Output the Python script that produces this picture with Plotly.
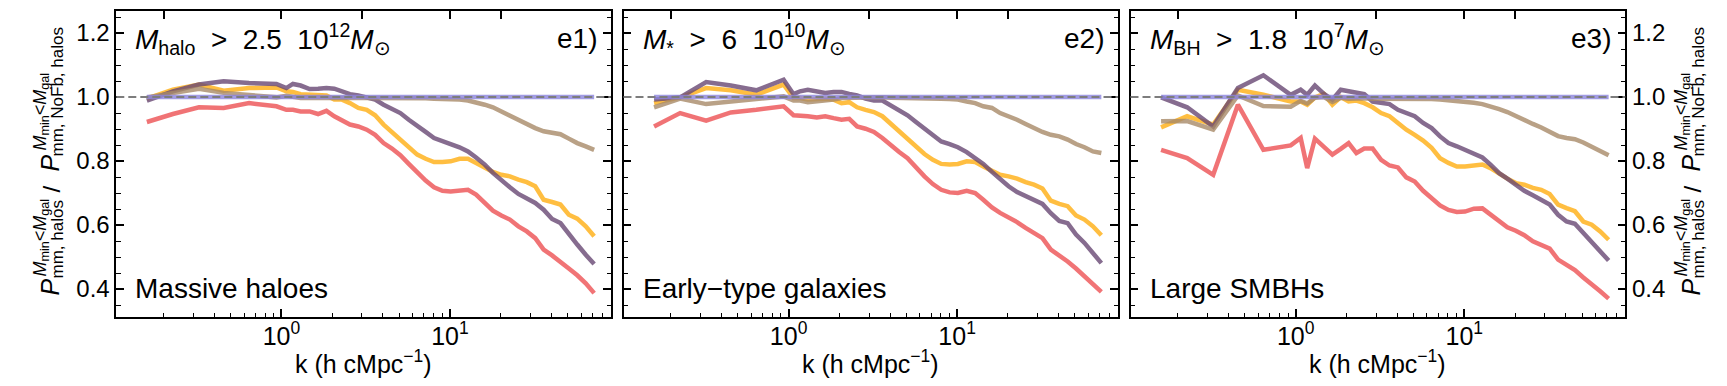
import plotly.graph_objects as go

W, H = 1727, 386

# ---------------- data ----------------
k = [0.159, 0.227, 0.324, 0.454, 0.643, 0.934, 1.07, 1.17, 1.30, 1.47, 1.65, 1.85,
     2.06, 2.29, 2.55, 2.86, 3.21, 3.60, 4.04, 4.53, 5.08, 5.70, 6.40, 7.18, 8.05,
     9.03, 10.1, 11.4, 12.8, 14.3, 16.1, 18.0, 20.2, 22.7, 25.5, 28.6, 32.1, 36.0,
     40.4, 45.3, 50.8, 57.0, 64.0, 71.8]

p1_red = [0.922, 0.947, 0.968, 0.966, 0.981, 0.971, 0.960, 0.960, 0.955, 0.955, 0.947, 0.957,
          0.940, 0.929, 0.914, 0.908, 0.898, 0.882, 0.856, 0.839, 0.818, 0.791, 0.763, 0.739,
          0.718, 0.707, 0.705, 0.707, 0.710, 0.695, 0.669, 0.645, 0.630, 0.617, 0.596, 0.580,
          0.559, 0.523, 0.505, 0.486, 0.464, 0.443, 0.418, 0.387]
p1_yellow = [0.995, 1.023, 1.039, 1.020, 1.028, 1.030, 1.018, 1.016, 1.009, 1.007, 1.007, 1.005,
             0.992, 0.992, 0.981, 0.966, 0.960, 0.943, 0.914, 0.891, 0.867, 0.841, 0.820, 0.807,
             0.797, 0.797, 0.799, 0.807, 0.807, 0.794, 0.778, 0.766, 0.757, 0.752, 0.742, 0.734,
             0.721, 0.679, 0.672, 0.664, 0.632, 0.620, 0.596, 0.565]
p1_purple = [0.989, 1.018, 1.039, 1.049, 1.044, 1.041, 1.028, 1.041, 1.036, 1.025, 1.026, 1.028,
             1.026, 1.016, 1.009, 1.005, 0.999, 0.992, 0.976, 0.964, 0.950, 0.929, 0.908, 0.891,
             0.872, 0.861, 0.853, 0.843, 0.830, 0.811, 0.789, 0.763, 0.739, 0.718, 0.697, 0.684,
             0.669, 0.648, 0.619, 0.606, 0.570, 0.539, 0.507, 0.478]
p1_tan = [0.999, 1.013, 1.026, 1.013, 1.007, 0.999, 1.004, 1.000, 0.997, 0.998, 0.998, 0.998,
          0.999, 0.999, 0.999, 0.999, 0.999, 0.999, 0.998, 0.998, 0.997, 0.997, 0.996, 0.996,
          0.995, 0.995, 0.994, 0.992, 0.989, 0.984, 0.976, 0.968, 0.955, 0.940, 0.929, 0.916,
          0.903, 0.893, 0.888, 0.884, 0.870, 0.856, 0.846, 0.835]

p2_red = [0.908, 0.950, 0.926, 0.952, 0.960, 0.971, 0.943, 0.943, 0.940, 0.936, 0.940, 0.934,
          0.929, 0.932, 0.908, 0.901, 0.891, 0.872, 0.849, 0.828, 0.809, 0.780, 0.752, 0.728,
          0.710, 0.702, 0.700, 0.707, 0.700, 0.679, 0.655, 0.638, 0.624, 0.609, 0.591, 0.575,
          0.559, 0.523, 0.505, 0.486, 0.464, 0.440, 0.419, 0.391]
p2_yellow = [0.981, 0.999, 1.028, 1.021, 1.007, 1.039, 0.997, 0.997, 0.992, 0.995, 0.995, 0.992,
             0.981, 0.984, 0.968, 0.960, 0.953, 0.940, 0.916, 0.893, 0.872, 0.849, 0.822, 0.804,
             0.791, 0.789, 0.791, 0.799, 0.797, 0.783, 0.768, 0.757, 0.752, 0.745, 0.734, 0.726,
             0.714, 0.676, 0.666, 0.659, 0.630, 0.617, 0.596, 0.568]
p2_purple = [0.992, 0.999, 1.047, 1.036, 1.021, 1.054, 1.009, 1.018, 1.023, 1.016, 1.013, 1.016,
             1.016, 1.010, 1.005, 0.995, 0.989, 0.989, 0.974, 0.957, 0.943, 0.922, 0.901, 0.880,
             0.861, 0.853, 0.843, 0.828, 0.811, 0.791, 0.766, 0.742, 0.721, 0.703, 0.690, 0.676,
             0.666, 0.637, 0.613, 0.606, 0.570, 0.544, 0.512, 0.481]
p2_tan = [0.968, 0.995, 0.978, 0.986, 0.995, 1.002, 0.989, 0.989, 0.984, 0.986, 0.989, 0.992,
          0.997, 0.998, 0.999, 0.999, 0.999, 0.999, 0.998, 0.998, 0.998, 0.997, 0.997, 0.996,
          0.995, 0.994, 0.992, 0.986, 0.981, 0.971, 0.966, 0.950, 0.940, 0.929, 0.916, 0.903,
          0.891, 0.882, 0.877, 0.867, 0.853, 0.843, 0.830, 0.825]

p3_red = [0.835, 0.809, 0.757, 0.976, 0.835, 0.849, 0.872, 0.778, 0.870, 0.843, 0.820, 0.838,
          0.856, 0.825, 0.839, 0.839, 0.804, 0.786, 0.780, 0.749, 0.736, 0.707, 0.682, 0.661,
          0.647, 0.641, 0.642, 0.651, 0.652, 0.632, 0.611, 0.593, 0.582, 0.568, 0.549, 0.536,
          0.526, 0.492, 0.476, 0.459, 0.436, 0.416, 0.393, 0.370]
p3_yellow = [0.905, 0.940, 0.914, 1.023, 1.007, 0.986, 0.986, 0.976, 0.999, 1.010, 0.976, 1.000,
             0.986, 0.989, 0.981, 0.968, 0.950, 0.940, 0.919, 0.898, 0.882, 0.864, 0.841, 0.809,
             0.794, 0.783, 0.783, 0.786, 0.789, 0.778, 0.759, 0.745, 0.731, 0.726, 0.716, 0.710,
             0.697, 0.664, 0.653, 0.643, 0.611, 0.601, 0.580, 0.554]
p3_purple = [0.999, 0.968, 0.908, 1.028, 1.068, 1.007, 1.023, 1.007, 1.036, 1.010, 0.992, 1.023,
             1.018, 1.012, 1.009, 0.986, 0.981, 0.978, 0.960, 0.950, 0.940, 0.919, 0.903, 0.877,
             0.856, 0.846, 0.835, 0.825, 0.811, 0.789, 0.762, 0.745, 0.724, 0.707, 0.693, 0.679,
             0.664, 0.632, 0.611, 0.604, 0.575, 0.549, 0.520, 0.489]
p3_tan = [0.924, 0.925, 0.898, 1.005, 0.972, 0.970, 0.988, 0.980, 0.998, 1.000, 0.985, 0.998,
          0.995, 0.997, 0.996, 0.995, 0.995, 0.994, 0.994, 0.995, 0.996, 0.996, 0.994, 0.992,
          0.990, 0.988, 0.985, 0.982, 0.978, 0.972, 0.962, 0.953, 0.940, 0.928, 0.916, 0.905,
          0.892, 0.878, 0.872, 0.868, 0.858, 0.845, 0.832, 0.818]

reference = [1.0] * len(k)

panel_titles = [
    "<i>M</i><sub>halo</sub>&nbsp; &gt; &nbsp;2.5&nbsp; 10<sup>12</sup><i>M</i><sub>⊙</sub>",
    "<i>M</i><sub>*</sub>&nbsp; &gt; &nbsp;6&nbsp; 10<sup>10</sup><i>M</i><sub>⊙</sub>",
    "<i>M</i><sub>BH</sub>&nbsp; &gt; &nbsp;1.8&nbsp; 10<sup>7</sup><i>M</i><sub>⊙</sub>",
]
panel_tags = ["e1)", "e2)", "e3)"]
panel_labels = ["Massive haloes", "Early\u2212type galaxies", "Large SMBHs"]
x_tickvals = [1, 10]
x_ticktext = ["10<sup>0</sup>", "10<sup>1</sup>"]
x_minor = [0.2, 0.3, 0.4, 0.5, 0.6, 0.7, 0.8, 0.9, 2, 3, 4, 5, 6, 7, 8, 9,
           20, 30, 40, 50, 60, 70, 80]
x_top_ticks = [0.2, 1, 3, 10, 20]
y_tickvals = [0.4, 0.6, 0.8, 1.0, 1.2]
y_ticktext = ["0.4", "0.6", "0.8", "1.0", "1.2"]

panels = [
    dict(red=p1_red, yellow=p1_yellow, purple=p1_purple, tan=p1_tan),
    dict(red=p2_red, yellow=p2_yellow, purple=p2_purple, tan=p2_tan),
    dict(red=p3_red, yellow=p3_yellow, purple=p3_purple, tan=p3_tan),
]

# ---------------- style ----------------
FONT = "Liberation Sans, Arial, Helvetica, sans-serif"
colors = dict(red="rgb(238,82,84)", yellow="rgb(255,176,20)",
              purple="rgb(104,72,116)", tan="rgb(168,138,104)")
lav = "rgb(140,132,222)"
LW = 4.5
OP = 0.8

xr = [-0.98, 1.955]
yr = [0.3125, 1.268]
xdoms = [(108.3, 602.8), (615.5, 1110.0), (1122.5, 1617.3)]
ytop, ybot = 3.3, 309.0
ydom = [(H - ybot) / H, (H - ytop) / H]


def px(x):
    return x / W


def py(y):
    return 1 - y / H


fig = go.Figure()

for i, pdat in enumerate(panels):
    xa = "x" if i == 0 else f"x{i+1}"
    ya = "y" if i == 0 else f"y{i+1}"
    for name in ["red", "yellow", "purple", "tan"]:
        fig.add_trace(go.Scatter(x=k, y=pdat[name], mode="lines", xaxis=xa, yaxis=ya,
                                 line=dict(color=colors[name], width=LW), opacity=OP,
                                 showlegend=False, hoverinfo="skip"))
    fig.add_trace(go.Scatter(x=k, y=reference, mode="lines", xaxis=xa, yaxis=ya,
                             line=dict(color=lav, width=LW), opacity=OP,
                             showlegend=False, hoverinfo="skip"))
    # empty trace for top tick axis
    fig.add_trace(go.Scatter(x=[1], y=[None], mode="lines", xaxis=f"x{i+4}", yaxis=ya,
                             showlegend=False, hoverinfo="skip"))

layout = dict(width=W, height=H, autosize=False,
              margin=dict(l=0, r=0, t=0, b=0, pad=0),
              paper_bgcolor="white", plot_bgcolor="white",
              font=dict(family=FONT, color="black", size=24),
              showlegend=False)

shapes = []
annotations = []
for i in range(3):
    sfx = "" if i == 0 else str(i + 1)
    d0, d1 = xdoms[i]
    layout[f"xaxis{sfx}"] = dict(
        type="log", range=xr, domain=[px(d0), px(d1)], anchor=f"y{sfx}",
        tickmode="array", tickvals=x_tickvals, ticktext=x_ticktext,
        ticks="inside", ticklen=8, tickwidth=1.5, tickcolor="black",
        showline=True, linecolor="black", linewidth=1.6, mirror=True,
        showgrid=False, zeroline=False, ticklabelstandoff=-4,
        tickfont=dict(size=25, family=FONT, color="black"),
        minor=dict(tickmode="array", tickvals=x_minor, ticks="inside", ticklen=4.5,
                   tickwidth=1.2, tickcolor="black", showgrid=False),
    )
    layout[f"xaxis{i+4}"] = dict(
        type="log", range=xr, overlaying=f"x{sfx}", anchor=f"y{sfx}", side="top",
        tickmode="array", tickvals=x_top_ticks, ticks="inside", ticklen=8,
        tickwidth=1.5, tickcolor="black", showticklabels=False, showline=False,
        showgrid=False, zeroline=False,
    )
    layout[f"yaxis{sfx}"] = dict(
        range=yr, domain=ydom, anchor=f"x{sfx}",
        side="right" if i == 2 else "left",
        showticklabels=(i != 1),
        tickmode="array", tickvals=y_tickvals, ticktext=y_ticktext,
        ticks="inside", ticklen=8, tickwidth=1.5, tickcolor="black",
        showline=True, linecolor="black", linewidth=1.6, mirror="ticks",
        showgrid=False, zeroline=False,
        tickfont=dict(size=24, family=FONT, color="black"),
        minor=dict(tickmode="linear", tick0=0, dtick=0.05, ticks="inside", ticklen=4.5,
                   tickwidth=1.2, tickcolor="black", showgrid=False),
    )
    shapes.append(dict(type="line", xref=f"x{sfx} domain", x0=0, x1=1,
                       yref=f"y{sfx}", y0=1.0, y1=1.0, layer="above",
                       line=dict(color="rgb(125,125,125)", width=2, dash="8px,4px")))
    # panel texts
    annotations.append(dict(text=panel_titles[i], x=px(d0 + 17), y=py(31), xref="paper",
                            yref="paper", xanchor="left", yanchor="middle", showarrow=False,
                            font=dict(size=28, family=FONT, color="black")))
    annotations.append(dict(text=panel_tags[i], x=px(d1 - 12), y=py(31), xref="paper",
                            yref="paper", xanchor="right", yanchor="middle", showarrow=False,
                            font=dict(size=28, family=FONT, color="black")))
    annotations.append(dict(text=panel_labels[i], x=px(d0 + 17), y=py(280), xref="paper",
                            yref="paper", xanchor="left", yanchor="middle", showarrow=False,
                            font=dict(size=28, family=FONT, color="black")))
    annotations.append(dict(text="k (h cMpc<sup>\u22121</sup>)", x=px((d0 + d1) / 2), y=py(354),
                            xref="paper", yref="paper", xanchor="center", yanchor="middle",
                            showarrow=False, font=dict(size=25, family=FONT, color="black")))

# y-axis titles built from rotated pieces
sup_txt = "<i>M</i><sub>min</sub>&lt;<i>M</i><sub>gal</sub>"
pieces = [
    ("<i>P</i>", 25, 41.6, 279),
    (sup_txt, 18, 32.5, 230),
    ("mm, halos", 17, 48.5, 232),
    ("/", 24, 42.5, 181),
    ("<i>P</i>", 25, 41.6, 155),
    (sup_txt, 18, 32.5, 104),
    ("mm, NoFb, halos", 17, 48.5, 84),
]
for off in [0, 1641]:
    for txt, fs, cx, cy in pieces:
        annotations.append(dict(text=txt, x=px(cx + off), y=py(cy), xref="paper", yref="paper",
                                xanchor="center", yanchor="middle", textangle=-90,
                                showarrow=False, font=dict(size=fs, family=FONT, color="black")))

layout["shapes"] = shapes
layout["annotations"] = annotations
fig.update_layout(**layout)

fig.write_html("out.html")
